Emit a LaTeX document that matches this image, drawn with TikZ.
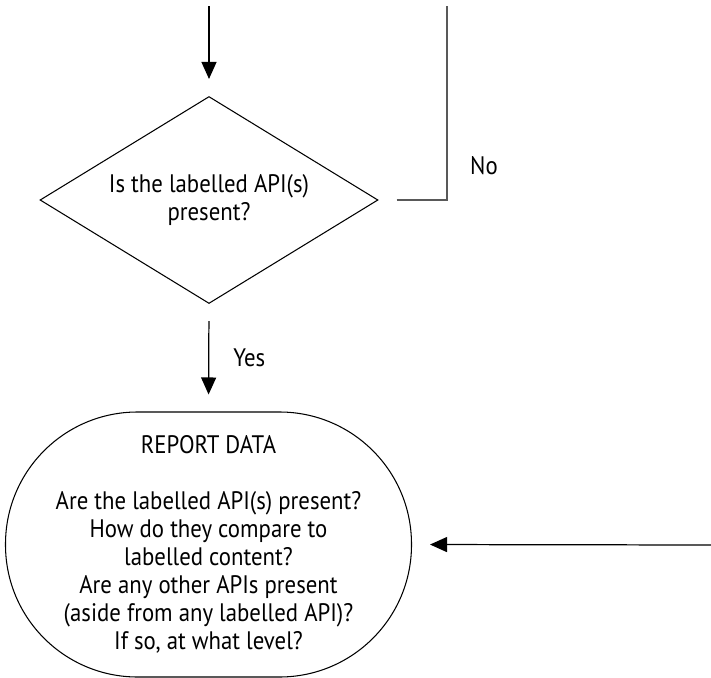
\documentclass[tikz,border=0pt]{standalone}
\usepackage{fontspec}
\setmainfont{PT Sans}[FakeStretch=0.9]
\usepackage{tikz}
\usetikzlibrary{shapes.geometric, positioning, arrows.meta}

\begin{document}
\begin{tikzpicture}[
          decision/.style = {diamond, aspect=2, draw, line width=0.6pt, minimum width=6.76cm, minimum height=4.14cm, inner sep=0pt, align=center},
          report/.style = {draw, line width=0.6pt, rounded corners=2.64cm, minimum width=8.12cm, minimum height=5.3cm, align=center},
          flow/.style = {-{Triangle[length=0.34cm, width=0.3cm]}, line width=0.7pt},
          noline/.style = {line width=1.1pt, black!65},
          lbl/.style = {inner sep=0pt},
          font=\fontsize{14.4}{15.9}\selectfont
         ]

        % Rahmen
        \useasboundingbox (0,0) rectangle (14.22,-13.56);

        % Entscheidung
        \node[decision] (dec) at (4.18,-4.0) {Is the labelled API(s)\\present?};
        \coordinate (top) at (4.18,-0.12);
        \draw[flow, shorten >=0.34cm] (top) -- (dec.north);

        % Nein-Zweig
        \coordinate (notop) at (8.94,-0.12);
        \draw[noline, shorten <=0.36cm] (dec.east) -| (notop);
        \node[lbl] (no) at (9.68,-3.32) {No};

        % Bericht
        \node[report] (rep) at (4.17,-10.89) {
        REPORT DATA\\[15.9pt]
        Are the labelled API(s) present?\\
        How do they compare to\\
        labelled content?\\
        Are any other APIs present\\
        (aside from any labelled API)?\\
        If so, at what level?
        };

        % Ja-Zweig
        \draw[flow, shorten <=0.34cm, shorten >=0.34cm] (dec.south) -- node[lbl, right=0.48cm] (yes) {Yes} (rep.north);

        % Pfeil von rechts
        \coordinate (right) at (14.22,-10.9);
        \draw[flow, shorten >=0.36cm] (right) -- (rep.east);

        \end{tikzpicture}
\end{document}
